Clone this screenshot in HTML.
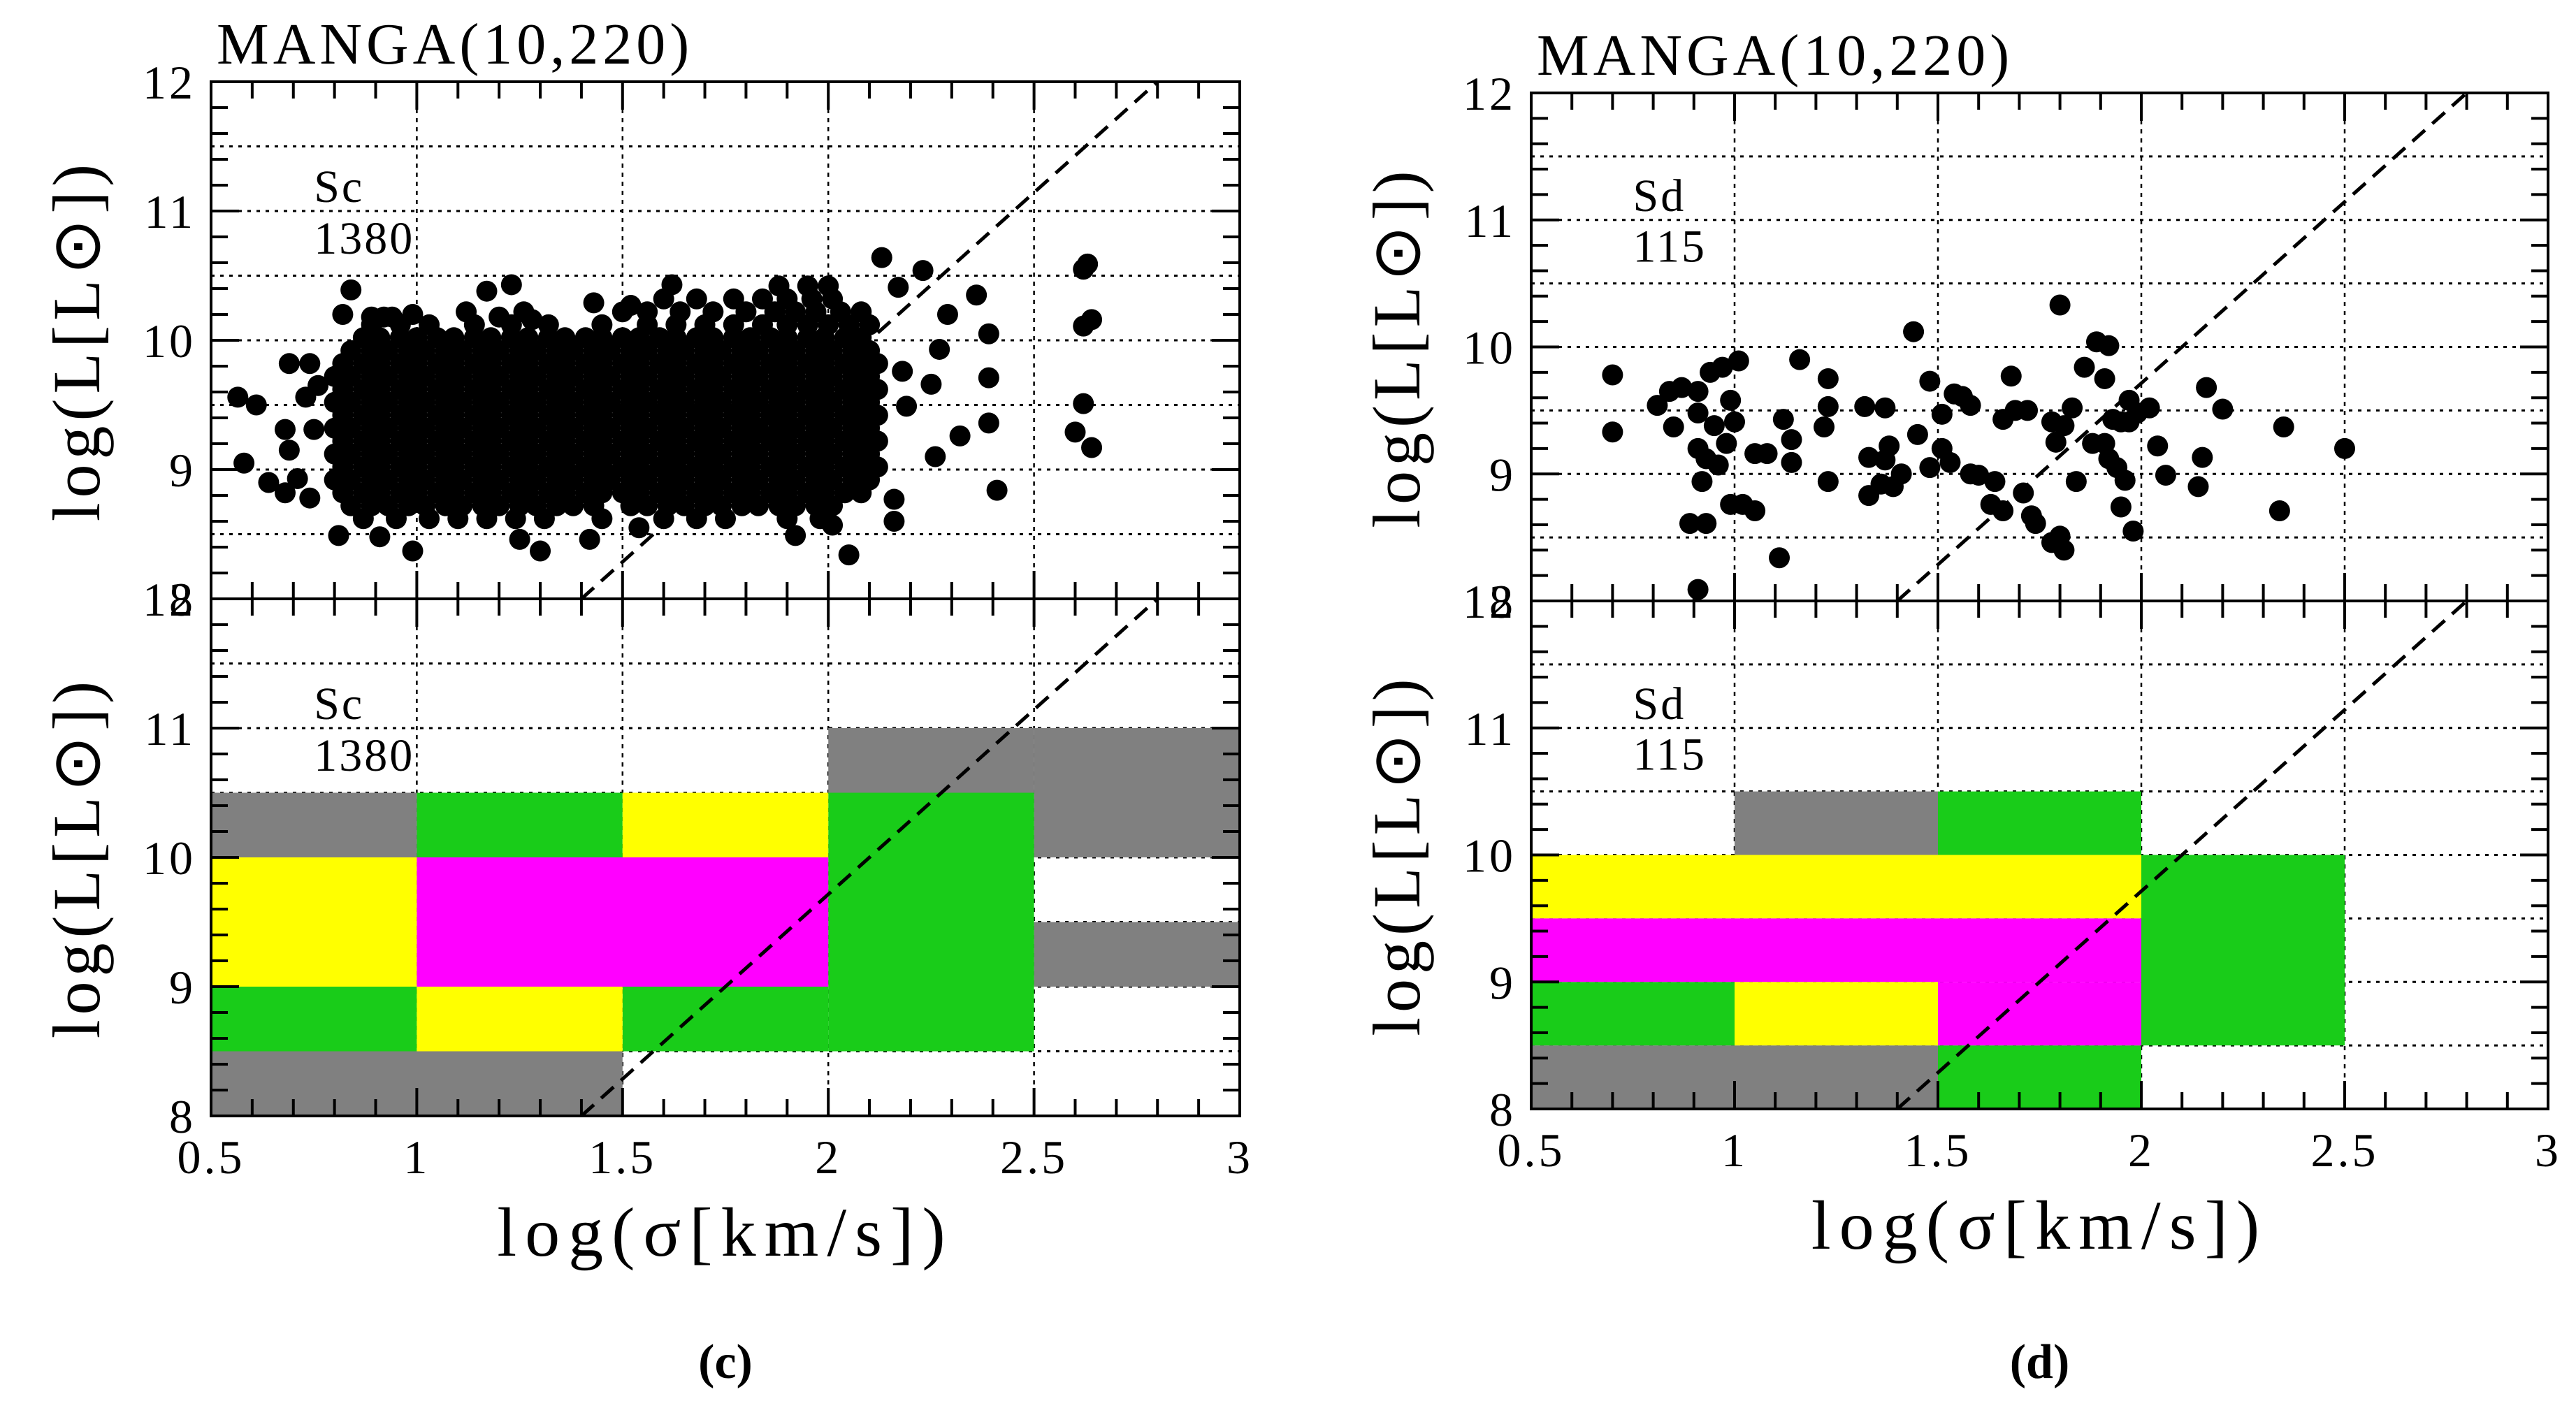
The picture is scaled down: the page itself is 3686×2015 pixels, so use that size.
<!DOCTYPE html>
<html><head><meta charset="utf-8"><style>
html,body{margin:0;padding:0;background:#fff;}
svg{display:block;}
text{font-family:"Liberation Serif",serif;fill:#000;}
</style></head><body>
<svg id="fig" width="3686" height="2015" viewBox="0 0 3686 2015" xmlns="http://www.w3.org/2000/svg"></svg>
<script>
// ---- Data: Sc panel scatter (outliers) ----
const scSigma=[0.565,0.61,0.69,0.74,0.68,0.75,0.69,0.58,0.64,0.68,0.74,0.71,0.73,0.76,0.81,0.91,0.99,1.25,1.30,1.42,1.54,1.92,2.05,2.01,2.16,2.16,2.41,2.26,2.32,2.39,2.19,2.25,2.39,2.18,2.27,2.29,2.39,2.36,2.23,2.13,2.17,2.63,2.64,2.62,2.62,2.60,2.64,2.62,0.84,0.82,1.17,1.23,1.62,1.43,1.52,0.89,0.92,0.94,0.99,1.20,1.28];
const scLum=[9.56,9.50,9.82,9.82,9.31,9.31,9.15,9.05,8.90,8.82,8.78,8.93,9.56,9.65,8.49,8.48,8.37,8.46,8.37,8.46,8.55,8.49,8.34,8.57,8.60,8.77,8.84,9.10,9.26,9.36,9.49,9.66,9.71,9.76,9.93,10.20,10.05,10.35,10.54,10.64,10.41,10.59,10.16,10.11,9.51,9.29,9.17,10.55,10.39,10.20,10.38,10.43,10.43,10.29,10.27,10.18,10.18,10.18,10.20,10.18,10.16];
// ---- Data: Sc panel scatter (dense core, row by row) ----
const scRowLum=[8.62,8.72,8.82,8.92,9.02,9.12,9.22,9.32,9.42,9.52,9.62,9.72,9.82,9.92,10.02,10.12,10.22,10.32,10.42];
const scRowSigma=[
[0.87,0.95,1.03,1.10,1.17,1.24,1.31,1.45,1.60,1.68,1.75,1.90,1.98],
[0.84,0.89,0.93,0.98,1.02,1.07,1.11,1.16,1.20,1.25,1.29,1.34,1.38,1.43,1.52,1.56,1.61,1.65,1.70,1.74,1.79,1.83,1.88,1.92,1.97,2.01],
[0.82,0.87,0.91,0.96,1.00,1.05,1.09,1.14,1.18,1.23,1.27,1.32,1.36,1.41,1.45,1.50,1.54,1.59,1.63,1.68,1.72,1.77,1.81,1.86,1.90,1.95,1.99,2.04,2.08],
[0.80,0.84,0.89,0.93,0.98,1.02,1.07,1.11,1.16,1.20,1.25,1.29,1.34,1.38,1.43,1.47,1.52,1.56,1.61,1.65,1.70,1.74,1.79,1.83,1.88,1.92,1.97,2.01,2.06,2.10],
[0.82,0.87,0.91,0.96,1.00,1.05,1.09,1.14,1.18,1.23,1.27,1.32,1.36,1.41,1.45,1.50,1.54,1.59,1.63,1.68,1.72,1.77,1.81,1.86,1.90,1.95,1.99,2.04,2.08,2.12],
[0.80,0.84,0.89,0.93,0.98,1.02,1.07,1.11,1.16,1.20,1.25,1.29,1.34,1.38,1.43,1.47,1.52,1.56,1.61,1.65,1.70,1.74,1.79,1.83,1.88,1.92,1.97,2.01,2.06,2.10],
[0.82,0.87,0.91,0.96,1.00,1.05,1.09,1.14,1.18,1.23,1.27,1.32,1.36,1.41,1.45,1.50,1.54,1.59,1.63,1.68,1.72,1.77,1.81,1.86,1.90,1.95,1.99,2.04,2.08,2.12],
[0.80,0.84,0.89,0.93,0.98,1.02,1.07,1.11,1.16,1.20,1.25,1.29,1.34,1.38,1.43,1.47,1.52,1.56,1.61,1.65,1.70,1.74,1.79,1.83,1.88,1.92,1.97,2.01,2.06,2.10],
[0.82,0.87,0.91,0.96,1.00,1.05,1.09,1.14,1.18,1.23,1.27,1.32,1.36,1.41,1.45,1.50,1.54,1.59,1.63,1.68,1.72,1.77,1.81,1.86,1.90,1.95,1.99,2.04,2.08,2.12],
[0.80,0.84,0.89,0.93,0.98,1.02,1.07,1.11,1.16,1.20,1.25,1.29,1.34,1.38,1.43,1.47,1.52,1.56,1.61,1.65,1.70,1.74,1.79,1.83,1.88,1.92,1.97,2.01,2.06,2.10],
[0.82,0.87,0.91,0.96,1.00,1.05,1.09,1.14,1.18,1.23,1.27,1.32,1.36,1.41,1.45,1.50,1.54,1.59,1.63,1.68,1.72,1.77,1.81,1.86,1.90,1.95,1.99,2.04,2.08,2.12],
[0.80,0.84,0.89,0.93,0.98,1.02,1.07,1.11,1.16,1.20,1.25,1.29,1.34,1.38,1.43,1.47,1.52,1.56,1.61,1.65,1.70,1.74,1.79,1.83,1.88,1.92,1.97,2.01,2.06,2.10],
[0.82,0.87,0.91,0.96,1.00,1.05,1.09,1.14,1.18,1.23,1.27,1.32,1.36,1.41,1.45,1.50,1.54,1.59,1.63,1.68,1.72,1.77,1.81,1.86,1.90,1.95,1.99,2.04,2.08,2.12],
[0.84,0.89,0.93,0.98,1.02,1.07,1.11,1.16,1.20,1.25,1.29,1.34,1.38,1.43,1.47,1.52,1.56,1.61,1.65,1.70,1.74,1.79,1.83,1.88,1.92,1.97,2.01,2.06,2.10],
[0.87,0.91,0.96,1.00,1.05,1.09,1.14,1.18,1.23,1.27,1.32,1.36,1.41,1.45,1.50,1.54,1.59,1.63,1.68,1.72,1.77,1.81,1.86,1.90,1.95,1.99,2.04,2.08],
[0.89,0.96,1.03,1.14,1.23,1.32,1.45,1.56,1.63,1.70,1.77,1.84,1.90,1.95,2.00,2.05,2.10],
[1.12,1.26,1.50,1.56,1.64,1.72,1.80,1.87,1.92,1.97,2.03,2.08],
[1.60,1.68,1.77,1.84,1.90,1.96,2.01],
[1.88,1.95,2.00]
];
// ---- Data: Sd panel scatter ----
const sdSigma=[0.70,0.70,0.81,0.84,0.87,0.85,0.91,0.94,0.97,1.01,0.99,0.91,0.95,1.00,0.98,0.91,0.93,0.96,0.92,0.99,1.02,1.05,0.89,0.93,0.91,1.11,1.12,1.14,1.14,1.05,1.08,1.16,1.23,1.23,1.22,1.23,1.32,1.33,1.33,1.37,1.36,1.38,1.37,1.39,1.41,1.44,1.45,1.48,1.48,1.51,1.51,1.53,1.54,1.56,1.58,1.58,1.60,1.63,1.64,1.66,1.66,1.68,1.69,1.72,1.71,1.73,1.74,1.78,1.80,1.81,1.78,1.81,1.79,1.80,1.83,1.84,1.86,1.89,1.92,1.88,1.91,1.91,1.92,1.93,1.94,1.95,1.96,1.95,1.97,1.97,1.98,1.99,2.02,2.04,2.06,2.14,2.15,2.16,2.20,2.34,2.35,2.50];
const sdLum=[9.78,9.33,9.54,9.65,9.68,9.37,9.65,9.80,9.84,9.89,9.58,9.48,9.38,9.41,9.24,9.20,9.12,9.07,8.94,8.76,8.76,8.71,8.61,8.61,8.09,8.34,9.43,9.27,9.09,9.16,9.16,9.90,9.75,9.53,9.37,8.94,9.53,9.13,8.83,9.52,8.92,9.22,9.11,8.90,9.00,10.12,9.31,9.73,9.05,9.47,9.20,9.09,9.63,9.61,9.54,9.00,8.99,8.76,8.94,8.71,9.43,9.77,9.50,9.50,8.85,8.67,8.61,8.46,8.51,8.40,9.41,9.38,9.25,10.33,9.52,8.94,9.84,10.04,10.01,9.24,9.24,9.75,9.12,9.43,9.05,9.41,8.95,8.74,9.58,9.41,8.55,9.48,9.52,9.22,8.99,8.90,9.13,9.68,9.51,8.71,9.37,9.20];
// ---- Data: heatmap cells (Sc) ----
const scCellX0=[0.5,2.0,2.5,2.5,0.5,1.0,2.0,0.5,1.5,1.5,0.5,1.0,1.0];
const scCellX1=[1.0,2.5,3.0,3.0,1.5,1.5,2.5,1.0,2.0,2.0,1.0,1.5,2.0];
const scCellY0=[10,10.5,10,9,8,10,8.5,8.5,8.5,10,9,8.5,9];
const scCellY1=[10.5,11,11,9.5,8.5,10.5,10.5,9,9,10.5,10,9,10];
const scCellClass=["gray","gray","gray","gray","gray","green","green","green","green","yellow","yellow","yellow","magenta"];
// ---- Data: heatmap cells (Sd) ----
const sdCellX0=[1.0,0.5,1.5,2.0,0.5,1.5,0.5,1.0,0.5,1.5];
const sdCellX1=[1.5,1.5,2.0,2.5,1.0,2.0,2.0,1.5,2.0,2.0];
const sdCellY0=[10,8,10,8.5,8.5,8,9.5,8.5,9,8.5];
const sdCellY1=[10.5,8.5,10.5,10,9,8.5,10,9,9.5,9];
const sdCellClass=["gray","gray","green","green","green","green","yellow","yellow","magenta","magenta"];
// ---- Ticks ----
const xTickLabels=["0.5","1","1.5","2","2.5","3"];
const xTickValues=[0.5,1,1.5,2,2.5,3];
const yTickValues=[8,9,10,11,12];
const yTickLabels=["8","9","10","11","12"];

const colorMap={gray:"#808080",green:"#19cc19",yellow:"#ffff00",magenta:"#ff00ff"};
const NS="http://www.w3.org/2000/svg";
const svg=document.getElementById("fig");
function el(tag,attrs,parent){const e=document.createElementNS(NS,tag);for(const k in attrs)e.setAttribute(k,attrs[k]);(parent||svg).appendChild(e);return e;}

function drawPanel(P,key,label,count,cells,scatter){
  const g=el("g",{});
  
  
  const sx=v=>P.x0+(v-0.5)*(P.x1-P.x0)/2.5;
  const uy=(P.bot-P.top)/8;
  const sub=[{y8:P.mid,name:'scatter'},{y8:P.bot,name:'heatmap'}];
  sub.forEach((S,si)=>{
    const sy=v=>S.y8-(v-8)*uy;
    const sg=el("g",{},g);
    
    
    [1,1.5,2,2.5].forEach(v=>{const l=el("line",{x1:sx(v),x2:sx(v),y1:sy(12),y2:sy(8),stroke:"#000","stroke-width":2.5,"stroke-dasharray":"6 7"},sg);
      
      });
    [8.5,9,9.5,10,10.5,11,11.5].forEach(v=>{const l=el("line",{x1:sx(0.5),x2:sx(3),y1:sy(v),y2:sy(v),stroke:"#000","stroke-width":3,"stroke-dasharray":"5 8"},sg);
      
      });
    if(si===1){
      for(let i=0;i<cells.x0.length;i++){
        const r=el("rect",{x:sx(cells.x0[i]),y:sy(cells.y1[i]),width:sx(cells.x1[i])-sx(cells.x0[i]),height:sy(cells.y0[i])-sy(cells.y1[i]),fill:colorMap[cells.c[i]]},sg);
        
        
      }
    } else {
      scatter.forEach(([xs,ys])=>{
        for(let i=0;i<xs.length;i++){
          const c=el("circle",{cx:sx(xs[i]),cy:sy(ys[i]),r:15,fill:"#000"},sg);
          
          
        }
      });
    }
    const d=el("line",{x1:sx(1.4),y1:sy(8),x2:sx(2.8),y2:sy(12),stroke:"#000","stroke-width":5,"stroke-dasharray":"24 14"},sg);
    
    
    for(let k=5;k<=30;k++){const v=k/10;const maj=(k%5===0);const len=maj?40:24;
      el("line",{x1:sx(v),x2:sx(v),y1:sy(12),y2:sy(12)+len,stroke:"#000","stroke-width":4},sg);
      el("line",{x1:sx(v),x2:sx(v),y1:sy(8),y2:sy(8)-len,stroke:"#000","stroke-width":4},sg);}
    for(let k=40;k<=60;k++){const v=k/5;const maj=(k%5===0);const len=maj?40:24;
      el("line",{x1:sx(0.5),x2:sx(0.5)+len,y1:sy(v),y2:sy(v),stroke:"#000","stroke-width":4},sg);
      el("line",{x1:sx(3),x2:sx(3)-len,y1:sy(v),y2:sy(v),stroke:"#000","stroke-width":4},sg);}
    const fr=el("rect",{x:sx(0.5),y:sy(12),width:sx(3)-sx(0.5),height:sy(8)-sy(12),fill:"none",stroke:"#000","stroke-width":4},sg);
    
    
    for(let i=0;i<yTickValues.length;i++){
      const t=el("text",{x:sx(0.5)-22,y:sy(yTickValues[i])+24,"font-size":68,"letter-spacing":4,"text-anchor":"end"},sg);
      t.textContent=yTickLabels[i];
      
      
    }
    const yt=el("text",{transform:`translate(${sx(0.5)-160},${(sy(8)+sy(12))/2}) rotate(-90)`,"font-size":96,"letter-spacing":7,"text-anchor":"middle"},sg);
    yt.textContent="log(L[L\u2299])";
    
    
    const t1=el("text",{x:sx(0.75),y:sy(11.07),"font-size":66,"letter-spacing":3},sg);
    t1.textContent=label;
    
    
    const t2=el("text",{x:sx(0.75),y:sy(10.67),"font-size":66,"letter-spacing":3},sg);
    t2.textContent=count;
    
    
  });
  for(let i=0;i<xTickValues.length;i++){
    const t=el("text",{x:sx(xTickValues[i]),y:P.bot+82,"font-size":68,"letter-spacing":4,"text-anchor":"middle"},g);
    t.textContent=xTickLabels[i];
    
    
  }
  const xt=el("text",{x:sx(1.75),y:P.bot+200,"font-size":100,"letter-spacing":12,"text-anchor":"middle"},g);
  xt.textContent="log(\u03C3[km/s])";
  
  
  const ti=el("text",{x:P.x0+8,y:P.top-26,"font-size":84,"letter-spacing":6},g);
  ti.textContent="MANGA(10,220)";
  
  
  const cap=el("text",{x:sx(1.75),y:1972,"font-size":70,"text-anchor":"middle","font-weight":"bold"},g);
  cap.textContent=P.cap;
  
  
}

const scRowX=[],scRowY=[];
scRowSigma.forEach((row,i)=>row.forEach(v=>{scRowX.push(v);scRowY.push(scRowLum[i]);}));
drawPanel({x0:302,x1:1774,top:117,mid:857,bot:1597,cap:"(c)"},"sc","Sc","1380",
  {x0:scCellX0,x1:scCellX1,y0:scCellY0,y1:scCellY1,c:scCellClass},
  [[scRowX,scRowY],[scSigma,scLum]]);
drawPanel({x0:2191,x1:3646,top:133,mid:860,bot:1587,cap:"(d)"},"sd","Sd","115",
  {x0:sdCellX0,x1:sdCellX1,y0:sdCellY0,y1:sdCellY1,c:sdCellClass},
  [[sdSigma,sdLum]]);
</script>
</body></html>
